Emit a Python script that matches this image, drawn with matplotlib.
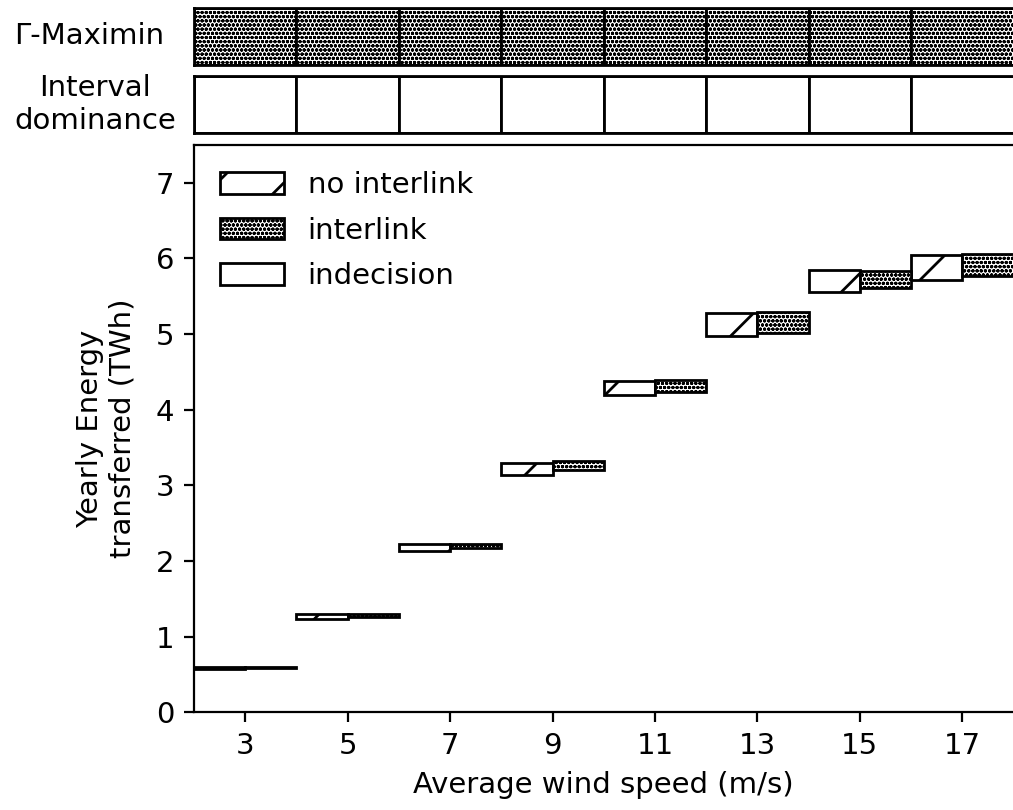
import matplotlib
matplotlib.use("Agg")
import matplotlib.pyplot as plt
import numpy as np
from matplotlib.patches import Patch

# Average wind speeds (m/s)
wind_speed = [3, 5, 7, 9, 11, 13, 15, 17]

# Yearly energy transferred (TWh): lower / upper bounds
no_interlink_low = [0.57, 1.24, 2.13, 3.14, 4.19, 4.97, 5.56, 5.71]
no_interlink_high = [0.60, 1.30, 2.225, 3.30, 4.38, 5.28, 5.85, 6.05]
interlink_low = [0.58, 1.265, 2.17, 3.20, 4.235, 5.02, 5.61, 5.77]
interlink_high = [0.60, 1.30, 2.225, 3.32, 4.39, 5.29, 5.83, 6.06]

# Decision per wind speed for each criterion
gamma_maximin = ["interlink"] * 8
interval_dominance = ["indecision"] * 8

x_ticks = wind_speed
y_ticks = [0, 1, 2, 3, 4, 5, 6, 7]

KINDS = ["no interlink", "interlink", "indecision"]
HATCH = {"no interlink": "/", "interlink": "o" * 8, "indecision": ""}
HATCH_LW = {"no interlink": 1.0, "interlink": 0.55, "indecision": 1.0}
LW = 1.0
FS = 10.5

plt.rcParams["font.family"] = "DejaVu Sans"
plt.rcParams["font.size"] = FS

W, H, DPI = 1013, 810, 200
fig = plt.figure(figsize=(W / DPI, H / DPI), dpi=DPI)

left = 194 / W
width = 819.5 / W


def fy(top_px, bottom_px):
    return 1 - bottom_px / H, (bottom_px - top_px) / H


b1, h1 = fy(8, 65)
b2, h2 = fy(76, 133.3)
b3, h3 = fy(145, 712.3)

ax_gm = fig.add_axes([left, b1, width, h1])
ax_id = fig.add_axes([left, b2, width, h2])
ax = fig.add_axes([left, b3, width, h3])


def set_hatch_lw(patch, lw):
    if hasattr(patch, "set_hatch_linewidth"):
        patch.set_hatch_linewidth(lw)
    else:
        patch._hatch_linewidth = lw


def boxes(a, x0, w, bottom, height, kind):
    bars = a.bar(x0, height, width=w, bottom=bottom, align="edge",
                 facecolor="white", edgecolor="black", linewidth=LW,
                 hatch=HATCH[kind])
    for p in bars:
        set_hatch_lw(p, HATCH_LW[kind])
    return bars


def draw_strip(a, decisions, label, label_x_px):
    for w, d in zip(wind_speed, decisions):
        boxes(a, w - 1, 2, 0, 1, d)
    a.set_xlim(2, 18)
    a.set_ylim(0, 1)
    a.set_xticks([])
    a.set_yticks([])
    for s in a.spines.values():
        s.set_linewidth(LW)
    pos = a.get_position()
    fig.text(label_x_px / W, pos.y0 + pos.height / 2, label, ha="center",
             va="center", multialignment="center", fontsize=FS)


draw_strip(ax_gm, gamma_maximin, "Γ-Maximin", 89)
draw_strip(ax_id, interval_dominance, "Interval\ndominance", 95)

# Ranges of energy transferred for both configurations
lo_n = np.array(no_interlink_low)
hi_n = np.array(no_interlink_high)
lo_i = np.array(interlink_low)
hi_i = np.array(interlink_high)
ws = np.array(wind_speed)

boxes(ax, ws - 1, 1, lo_n, hi_n - lo_n, "no interlink")
boxes(ax, ws, 1, lo_i, hi_i - lo_i, "interlink")

ax.set_xlim(2, 18)
ax.set_ylim(0, 7.5)
ax.set_xticks(x_ticks)
ax.set_yticks(y_ticks)
ax.spines["right"].set_visible(False)
ax.set_xlabel("Average wind speed (m/s)")
ax.set_ylabel("Yearly Energy\ntransferred (TWh)", labelpad=7)

handles = [Patch(facecolor="white", edgecolor="black", linewidth=LW,
                 hatch=HATCH[k], label=k) for k in KINDS]
leg = ax.legend(handles=handles, loc="upper left", frameon=False,
                handlelength=2.2, handleheight=0.75, borderaxespad=0.5,
                labelspacing=0.6)
for p, k in zip(leg.get_patches(), KINDS):
    set_hatch_lw(p, HATCH_LW[k])

fig.savefig("out.png", dpi=DPI)
